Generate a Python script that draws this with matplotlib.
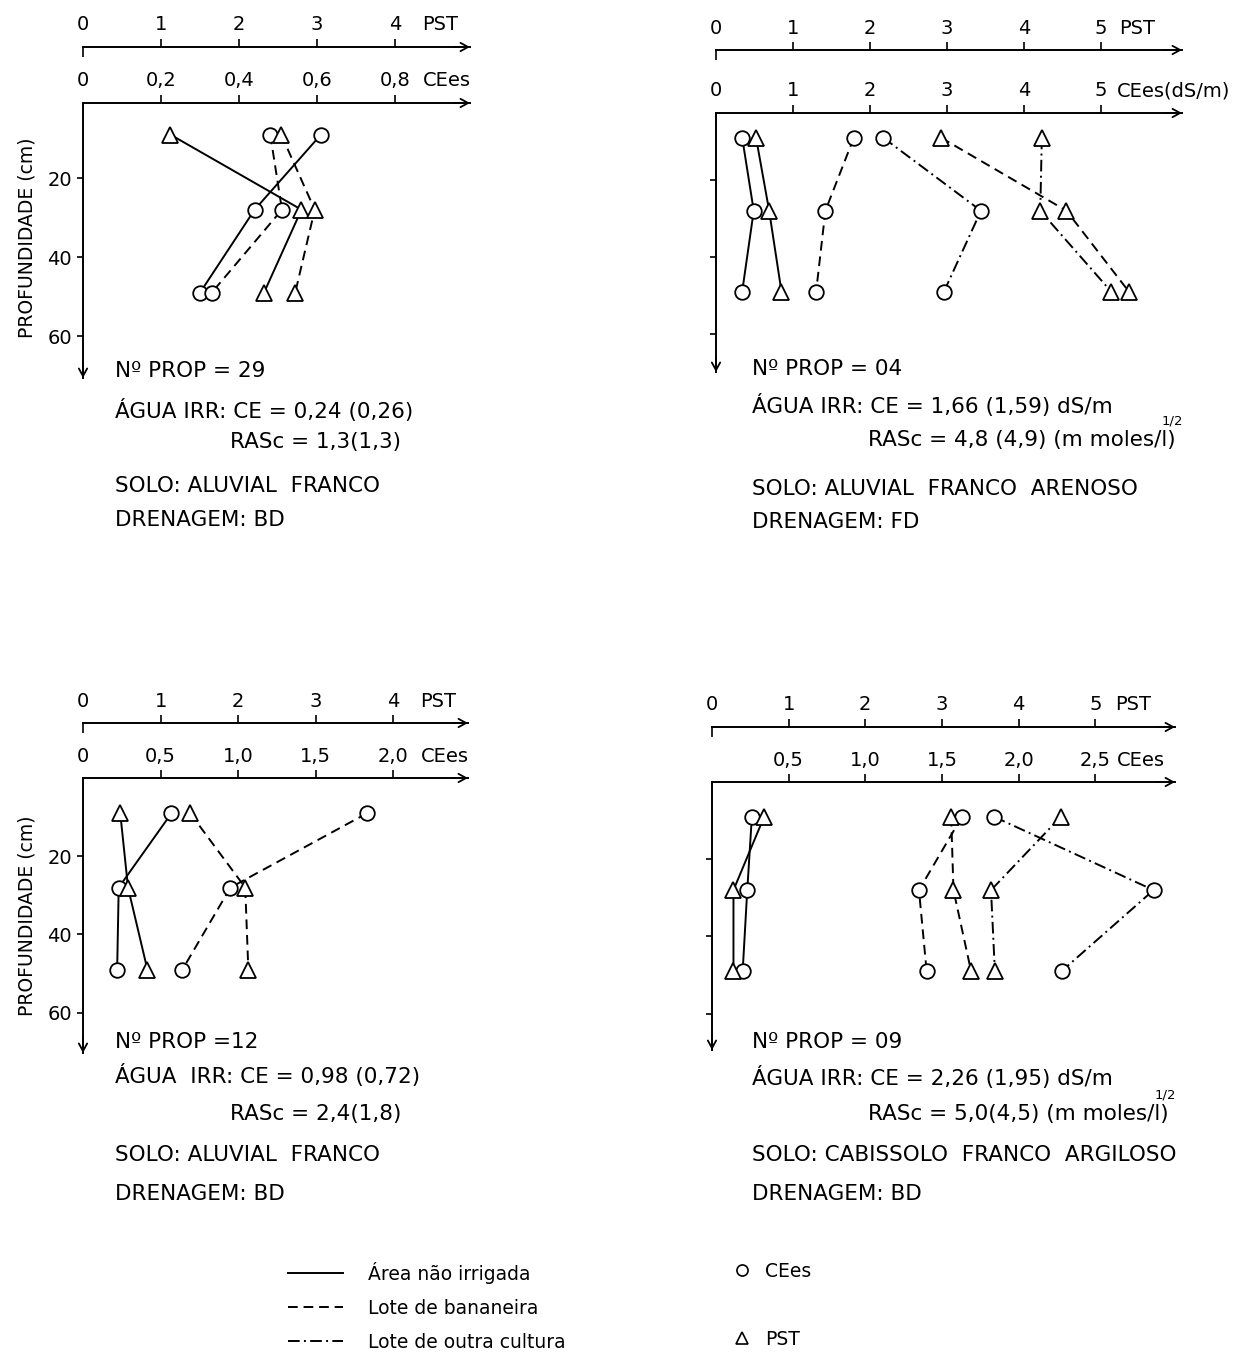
import matplotlib
matplotlib.use("Agg")
import matplotlib.pyplot as plt
from matplotlib.lines import Line2D

plt.rcParams["font.family"] = ["DejaVu Sans"]

W, H = 1248, 1369

# ------------------------------------------------------------------ data
# sampling depths (cm) shared by every profile
DEPTHS = [9, 28, 49]
DEPTH_TICKS = [20, 40, 60]
DEPTH_LABELS = ["20", "40", "60"]

# Nº PROP 29
P29_CE_TICKS = [0, 0.2, 0.4, 0.6, 0.8]
P29_CE_LABELS = ["0", "0,2", "0,4", "0,6", "0,8"]
P29_PST_TICKS = [0, 1, 2, 3, 4]
P29_PST_LABELS = ["0", "1", "2", "3", "4"]
P29_CE_NAO_IRRIGADA = [0.61, 0.44, 0.30]
P29_CE_BANANEIRA = [0.48, 0.51, 0.33]
P29_PST_NAO_IRRIGADA = [1.12, 2.80, 2.32]
P29_PST_BANANEIRA = [2.54, 2.97, 2.72]
P29_INFO = ["Nº PROP = 29", "ÁGUA IRR: CE = 0,24 (0,26)", "RASc = 1,3(1,3)",
            "SOLO: ALUVIAL  FRANCO", "DRENAGEM: BD"]

# Nº PROP 04
P04_CE_TICKS = [0, 1, 2, 3, 4, 5]
P04_CE_LABELS = ["0", "1", "2", "3", "4", "5"]
P04_PST_TICKS = [0, 1, 2, 3, 4, 5]
P04_PST_LABELS = ["0", "1", "2", "3", "4", "5"]
P04_CE_NAO_IRRIGADA = [0.34, 0.49, 0.34]
P04_CE_BANANEIRA = [1.79, 1.42, 1.30]
P04_CE_OUTRA = [2.17, 3.44, 2.96]
P04_PST_NAO_IRRIGADA = [0.52, 0.69, 0.85]
P04_PST_BANANEIRA = [2.92, 4.55, 5.36]
P04_PST_OUTRA = [4.23, 4.21, 5.13]
P04_INFO = ["Nº PROP = 04", "ÁGUA IRR: CE = 1,66 (1,59) dS/m",
            "RASc = 4,8 (4,9) (m moles/l)",
            "SOLO: ALUVIAL  FRANCO  ARENOSO", "DRENAGEM: FD"]

# Nº PROP 12
P12_CE_TICKS = [0, 0.5, 1.0, 1.5, 2.0]
P12_CE_LABELS = ["0", "0,5", "1,0", "1,5", "2,0"]
P12_PST_TICKS = [0, 1, 2, 3, 4]
P12_PST_LABELS = ["0", "1", "2", "3", "4"]
P12_CE_NAO_IRRIGADA = [0.57, 0.23, 0.22]
P12_CE_BANANEIRA = [1.83, 0.95, 0.64]
P12_PST_NAO_IRRIGADA = [0.48, 0.58, 0.83]
P12_PST_BANANEIRA = [1.38, 2.09, 2.13]
P12_INFO = ["Nº PROP =12", "ÁGUA  IRR: CE = 0,98 (0,72)", "RASc = 2,4(1,8)",
            "SOLO: ALUVIAL  FRANCO", "DRENAGEM: BD"]

# Nº PROP 09
P09_CE_TICKS = [0.5, 1.0, 1.5, 2.0, 2.5]
P09_CE_LABELS = ["0,5", "1,0", "1,5", "2,0", "2,5"]
P09_PST_TICKS = [0, 1, 2, 3, 4, 5]
P09_PST_LABELS = ["0", "1", "2", "3", "4", "5"]
P09_CE_NAO_IRRIGADA = [0.26, 0.23, 0.20]
P09_CE_BANANEIRA = [1.63, 1.35, 1.40]
P09_CE_OUTRA = [1.84, 2.88, 2.28]
P09_PST_NAO_IRRIGADA = [0.68, 0.28, 0.28]
P09_PST_BANANEIRA = [3.12, 3.15, 3.38]
P09_PST_OUTRA = [4.55, 3.64, 3.69]
P09_INFO = ["Nº PROP = 09", "ÁGUA IRR: CE = 2,26 (1,95) dS/m",
            "RASc = 5,0(4,5) (m moles/l)",
            "SOLO: CABISSOLO  FRANCO  ARGILOSO", "DRENAGEM: BD"]

LEGEND_LINES = ["Área não irrigada", "Lote de bananeira", "Lote de outra cultura"]
LEGEND_MARKERS = ["CEes", " ", "PST"]

# ------------------------------------------------------------------ styles
LS = {"nao": "-", "ban": (0, (5, 3)), "outra": (0, (6, 2.2, 1, 2.2))}
LW = 1.4
MK = {"ce": dict(marker="o", ms=10.5), "pst": dict(marker="^", ms=11)}
TXT = 15.5
TICK = 14

fig = plt.figure(figsize=(W / 100, H / 100), dpi=100)


def arrow(ax, xy, xytext):
    ax.annotate("", xy=xy, xytext=xytext, xycoords="axes fraction",
                arrowprops=dict(arrowstyle="->,head_length=0.55,head_width=0.3",
                                lw=1.3, color="black", shrinkA=0, shrinkB=0),
                annotation_clip=False)


def split_ticks(ticks, labels):
    zero = [(t, l) for t, l in zip(ticks, labels) if t == 0]
    rest = [(t, l) for t, l in zip(ticks, labels) if t != 0]
    return zero, rest


def panel(box, ylim, ce_max, ratio, pst_y, ce_ticks, ce_labels, ce_unit,
          ce_dx, pst_ticks, pst_labels, pst_dx, series, left_labels, ylabel_y):
    left, right, top, bottom = box
    ax = fig.add_axes([left / W, 1 - bottom / H, (right - left) / W, (bottom - top) / H])
    ax.set_xlim(0, ce_max)
    ax.set_ylim(*ylim)
    tw = ax.twiny()
    tw.set_xlim(0, ce_max * ratio)
    ax.xaxis.tick_top()
    ax.patch.set_visible(False)

    for s in ("bottom", "right"):
        ax.spines[s].set_visible(False)
    for s in ("bottom", "right", "left"):
        tw.spines[s].set_visible(False)
    for sp in (ax.spines["top"], ax.spines["left"], tw.spines["top"]):
        sp.set_linewidth(1.4)
    pst_frac = 1 + (top - pst_y) / (bottom - top)
    tw.spines["top"].set_position(("axes", pst_frac))

    # CEes axis
    zero, rest = split_ticks(ce_ticks, ce_labels)
    ax.set_xticks([t for t, _ in rest], [l for _, l in rest])
    ax.set_xticks([t for t, _ in zero], [l for _, l in zero], minor=True)
    ax.tick_params(axis="x", which="major", top=True, bottom=False, labeltop=True,
                   labelbottom=False, direction="out", length=6, width=1.2,
                   pad=3, labelsize=TICK)
    ax.tick_params(axis="x", which="minor", top=True, bottom=False, labeltop=True,
                   labelbottom=False, length=0, pad=9, labelsize=TICK)

    # PST axis
    zero, rest = split_ticks(pst_ticks, pst_labels)
    tw.set_xticks([t for t, _ in rest], [l for _, l in rest])
    tw.set_xticks([t for t, _ in zero], [l for _, l in zero], minor=True)
    tw.tick_params(axis="x", which="major", top=True, bottom=False, labeltop=True,
                   labelbottom=False, direction="out", length=6, width=1.2,
                   pad=3, labelsize=TICK)
    tw.tick_params(axis="x", which="minor", top=True, bottom=False, labeltop=True,
                   labelbottom=False, direction="in", length=7, width=1.2,
                   pad=9, labelsize=TICK)

    # depth axis
    ax.set_yticks(DEPTH_TICKS, DEPTH_LABELS if left_labels else [""] * len(DEPTH_TICKS))
    ax.tick_params(axis="y", direction="out", length=4, width=1.2, pad=4,
                   labelsize=TICK)
    if left_labels:
        ax.set_ylabel("PROFUNDIDADE (cm)", fontsize=13.5)
        ax.yaxis.set_label_coords(-0.12, ylabel_y)

    # axis arrows
    arrow(ax, (1.0, 1.0), (0.96, 1.0))
    arrow(tw, (1.0, pst_frac), (0.96, pst_frac))
    arrow(ax, (0.0, 0.0), (0.0, 0.06))

    # axis names
    ax.annotate(ce_unit, xy=(ce_ticks[-1], 1), xycoords=("data", "axes fraction"),
                xytext=(ce_dx * 0.72, 9), textcoords="offset points",
                ha="left", va="bottom", fontsize=TICK, annotation_clip=False)
    tw.annotate("PST", xy=(pst_ticks[-1], pst_frac), xycoords=("data", "axes fraction"),
                xytext=(pst_dx * 0.72, 9), textcoords="offset points",
                ha="left", va="bottom", fontsize=TICK, annotation_clip=False)

    # profiles
    for values, kind, style in series:
        target = ax if kind == "ce" else tw
        target.plot(values, DEPTHS, ls=LS[style], color="black", lw=LW,
                    mfc="white", mec="black", mew=1.3, clip_on=False,
                    **MK[kind])
    return ax


def info(ax, x, x_ras, baselines, lines, power):
    for i, (y, s) in enumerate(zip(baselines, lines)):
        xx = x_ras if i == 2 else x
        t = fig.text(xx / W, 1 - y / H, s, fontsize=TXT, ha="left", va="baseline")
        if i == 2 and power:
            ax.annotate("1/2", xy=(1, 1), xycoords=t, xytext=(-10, 2),
                        textcoords="offset points", fontsize=9.5, ha="left",
                        va="bottom", annotation_clip=False)


ax1 = panel((83, 470, 103, 378), (70.6, 1.0), 0.992, 5, 47,
            P29_CE_TICKS, P29_CE_LABELS, "CEes", 28,
            P29_PST_TICKS, P29_PST_LABELS, 27,
            [(P29_CE_NAO_IRRIGADA, "ce", "nao"), (P29_CE_BANANEIRA, "ce", "ban"),
             (P29_PST_NAO_IRRIGADA, "pst", "nao"), (P29_PST_BANANEIRA, "pst", "ban")],
            True, 0.51)
ax2 = panel((716, 1182, 113, 372), (69.9, 2.6), 6.05, 1, 50,
            P04_CE_TICKS, P04_CE_LABELS, "CEes(dS/m)", 16,
            P04_PST_TICKS, P04_PST_LABELS, 18,
            [(P04_CE_NAO_IRRIGADA, "ce", "nao"), (P04_CE_BANANEIRA, "ce", "ban"),
             (P04_CE_OUTRA, "ce", "outra"),
             (P04_PST_NAO_IRRIGADA, "pst", "nao"), (P04_PST_BANANEIRA, "pst", "ban"),
             (P04_PST_OUTRA, "pst", "outra")],
            False, 0.5)
ax3 = panel((83, 468, 778, 1053), (70.3, 0.0), 2.48, 2, 723,
            P12_CE_TICKS, P12_CE_LABELS, "CEes", 27,
            P12_PST_TICKS, P12_PST_LABELS, 27,
            [(P12_CE_NAO_IRRIGADA, "ce", "nao"), (P12_CE_BANANEIRA, "ce", "ban"),
             (P12_PST_NAO_IRRIGADA, "pst", "nao"), (P12_PST_BANANEIRA, "pst", "ban")],
            True, 0.50)
ax4 = panel((712, 1175, 782, 1050), (69.4, 0.0), 3.02, 2, 727,
            P09_CE_TICKS, P09_CE_LABELS, "CEes", 22,
            P09_PST_TICKS, P09_PST_LABELS, 20,
            [(P09_CE_NAO_IRRIGADA, "ce", "nao"), (P09_CE_BANANEIRA, "ce", "ban"),
             (P09_CE_OUTRA, "ce", "outra"),
             (P09_PST_NAO_IRRIGADA, "pst", "nao"), (P09_PST_BANANEIRA, "pst", "ban"),
             (P09_PST_OUTRA, "pst", "outra")],
            False, 0.5)

info(ax1, 115, 230, [377, 418, 448, 492, 526], P29_INFO, False)
info(ax2, 752, 868, [375, 413, 446, 495, 528], P04_INFO, True)
info(ax3, 115, 230, [1048, 1083, 1120, 1161, 1200], P12_INFO, False)
info(ax4, 752, 868, [1048, 1085, 1120, 1161, 1200], P09_INFO, True)

# legend: line styles
line_handles = [Line2D([], [], color="black", lw=LW, ls=LS[k]) for k in ("nao", "ban", "outra")]
fig.legend(line_handles, LEGEND_LINES, loc="upper left",
           bbox_to_anchor=(288 / W, 1 - 1262 / H), frameon=False, fontsize=13.5,
           handlelength=2.93, handletextpad=1.33, labelspacing=0.8,
           borderpad=0, borderaxespad=0)

# legend: marker meaning
marker_handles = [
    Line2D([], [], ls="none", marker="o", ms=8, mfc="white", mec="black", mew=1.2),
    Line2D([], [], ls="none"),
    Line2D([], [], ls="none", marker="^", ms=8.5, mfc="white", mec="black", mew=1.2),
]
fig.legend(marker_handles, LEGEND_MARKERS, loc="upper left",
           bbox_to_anchor=(733 / W, 1 - 1262 / H), frameon=False, fontsize=13.5,
           handlelength=1.0, handletextpad=0.7, labelspacing=0.8,
           borderpad=0, borderaxespad=0)

fig.savefig("out.png", dpi=100)
